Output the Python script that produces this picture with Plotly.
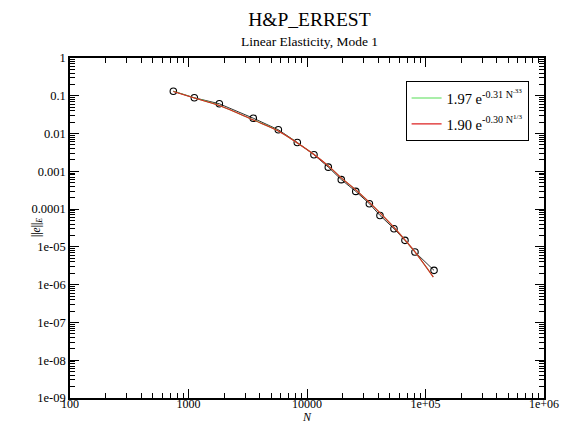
import plotly.graph_objects as go

# Data
N_data = [745, 1120, 1820, 3520, 5730, 8280, 11450, 15130, 19470, 25800,
          33600, 41300, 54200, 67100, 81500, 118000]
E_data = [0.132, 0.0885, 0.0614, 0.0255, 0.0126, 0.00582, 0.00275, 0.00129,
          6.03e-4, 2.94e-4, 1.39e-4, 6.8e-5, 3.03e-5, 1.49e-5, 7.3e-6, 2.39e-6]

N_fit = [745, 1120, 1820, 3520, 5730, 8280, 11450, 15130, 19470, 25800,
         33600, 41300, 54200, 67100, 81500, 116400]
E_fit_green = [0.131, 0.0878, 0.0556, 0.0230, 0.01175, 0.00565, 0.00281, 0.00139,
               6.70e-4, 3.22e-4, 1.50e-4, 7.92e-5, 3.27e-5, 1.52e-5, 7.35e-6, 1.60e-6]
E_fit_red = [0.130, 0.0875, 0.0554, 0.0229, 0.01172, 0.00564, 0.00280, 0.00139,
             6.69e-4, 3.22e-4, 1.50e-4, 7.93e-5, 3.28e-5, 1.53e-5, 7.38e-6, 1.59e-6]

x_tickvals = [100, 1000, 10000, 100000, 1000000]
x_ticktext = ["100", "1000", "10000", "1e+05", "1e+06"]
y_tickvals = [1, 0.1, 0.01, 0.001, 0.0001, 1e-5, 1e-6, 1e-7, 1e-8, 1e-9]
y_ticktext = ["1", "0.1", "0.01", "0.001", "0.0001", "1e-05", "1e-06", "1e-07", "1e-08", "1e-09"]

x_minor = [m * 10 ** d for d in range(2, 6) for m in range(2, 10)]
y_minor = [m * 10.0 ** d for d in range(-9, 0) for m in range(2, 10)]

FONT = "Liberation Serif"
# The page body has an 8px default margin; size the figure to fit the window.
W, H = 562, 415

fig = go.Figure()
fig.add_trace(go.Scatter(
    x=N_data, y=E_data, mode="lines+markers",
    line=dict(color="black", width=0.8),
    marker=dict(symbol="circle-open", size=6.5, color="black", line=dict(width=1.1)),
    showlegend=False))
fig.add_trace(go.Scatter(
    x=N_fit, y=E_fit_green, mode="lines", line=dict(color="#55dd55", width=1.1, shape="spline"),
    name="1.97 e<sup>-0.31 N<sup>.33</sup></sup>", legendgroup="g"))
fig.add_trace(go.Scatter(
    x=N_fit, y=E_fit_red, mode="lines", line=dict(color="#dd2222", width=1.1, shape="spline"),
    name="1.90 e<sup>-0.30 N<sup>1/3</sup></sup>", legendgroup="r"))

axis_common = dict(
    showgrid=False, zeroline=False, showline=True, linecolor="black", linewidth=1.5,
    mirror="ticks", ticks="inside", ticklen=9, tickwidth=1, tickcolor="black",
    automargin=False,
)

fig.update_xaxes(type="log", range=[2, 6], tickvals=x_tickvals, ticktext=x_ticktext,
                 minor=dict(ticks="inside", ticklen=5, tickcolor="black", tickvals=x_minor, showgrid=False),
                 tickfont=dict(family=FONT, size=12, color="black"),
                 ticklabelstandoff=-6, **axis_common)
fig.update_yaxes(type="log", range=[-9, 0], tickvals=y_tickvals, ticktext=y_ticktext,
                 minor=dict(ticks="inside", ticklen=5, tickcolor="black", tickvals=y_minor, showgrid=False),
                 tickfont=dict(family=FONT, size=12.5, color="black"),
                 **axis_common)

fig.update_layout(
    width=W, height=H,
    margin=dict(l=62, r=25.5, t=49.5, b=25),
    paper_bgcolor="white", plot_bgcolor="white",
    font=dict(family=FONT, color="black"),
    title=dict(text="H&P_ERREST", xref="paper", x=0.505, xanchor="center",
               yref="container", y=1 - 11.5 / H, yanchor="middle",
               font=dict(family=FONT, size=19.5, color="black")),
    annotations=[
        dict(text="Linear Elasticity, Mode 1", xref="paper", yref="paper",
             x=0.505, y=1.0, yshift=16.5, yanchor="middle", showarrow=False,
             font=dict(family=FONT, size=13.5, color="black")),
        dict(text="||<i>e</i>||<sub><i>E</i></sub>", xref="paper", yref="paper",
             x=-0.0695, y=0.5, xanchor="center", yanchor="middle", textangle=-90,
             showarrow=False, font=dict(family=FONT, size=11.5, color="black")),
        dict(text="<i>N</i>", xref="paper", yref="paper",
             x=0.5, y=-0.056, xanchor="center", yanchor="middle",
             showarrow=False, font=dict(family=FONT, size=12, color="black")),
    ],
    legend=dict(x=0.708, y=0.932, xanchor="left", yanchor="top",
                bordercolor="black", borderwidth=1, bgcolor="white",
                font=dict(family=FONT, size=14.5, color="black"),
                tracegroupgap=4, itemwidth=30),
    showlegend=True,
)

fig.write_html("out.html")
